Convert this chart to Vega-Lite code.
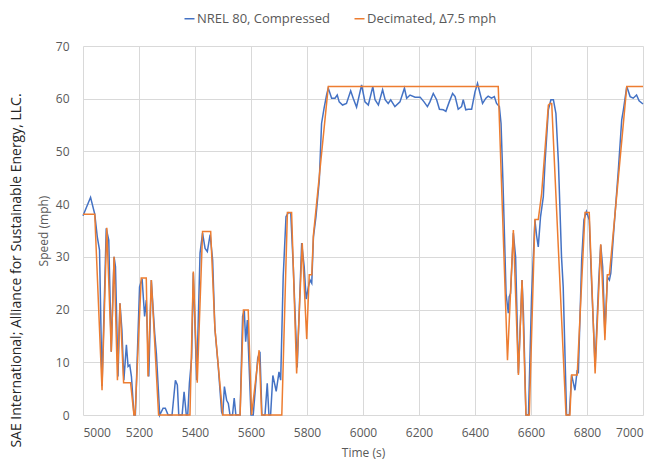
{
  "$schema": "https://vega.github.io/schema/vega-lite/v6.json",
  "autosize": {"type": "none"},
  "width": 560,
  "height": 369,
  "padding": {"left": 83, "top": 46, "right": 23, "bottom": 54},
  "background": "white",
  "title": {
    "text": "SAE International; Alliance for Sustainable Energy, LLC.",
    "orient": "left",
    "anchor": "middle",
    "font": "Open Sans",
    "fontSize": 14,
    "fontWeight": "normal",
    "color": "#262626",
    "offset": 13,
    "dx": -40
  },
  "datasets": {
    "nrel": [
      {"t": 5000, "v": 37.8}, {"t": 5027, "v": 41.3}, {"t": 5042, "v": 38.1}, {"t": 5051, "v": 33.8},
      {"t": 5059, "v": 31.3}, {"t": 5068, "v": 5.5}, {"t": 5083, "v": 35.4}, {"t": 5092, "v": 33.2},
      {"t": 5101, "v": 12}, {"t": 5111, "v": 30}, {"t": 5116, "v": 28.1}, {"t": 5125, "v": 7.3},
      {"t": 5132, "v": 21.2}, {"t": 5139, "v": 16.1}, {"t": 5146, "v": 6.6}, {"t": 5155, "v": 13.3},
      {"t": 5161, "v": 9.2}, {"t": 5167, "v": 9.5}, {"t": 5173, "v": 7.3}, {"t": 5182, "v": 0},
      {"t": 5187, "v": 0}, {"t": 5202, "v": 24.3}, {"t": 5211, "v": 25.9}, {"t": 5220, "v": 18.7},
      {"t": 5226, "v": 21.8}, {"t": 5235, "v": 7.3}, {"t": 5244, "v": 25.6}, {"t": 5256, "v": 15.5},
      {"t": 5262, "v": 11.7}, {"t": 5274, "v": 0}, {"t": 5286, "v": 1.3}, {"t": 5294, "v": 1.3},
      {"t": 5304, "v": 0}, {"t": 5318, "v": 0}, {"t": 5330, "v": 6.6}, {"t": 5337, "v": 5.7},
      {"t": 5342, "v": 0}, {"t": 5354, "v": 0}, {"t": 5361, "v": 4.4}, {"t": 5369, "v": 0},
      {"t": 5374, "v": 0}, {"t": 5380, "v": 6.0}, {"t": 5388, "v": 10.8}, {"t": 5394, "v": 27},
      {"t": 5406, "v": 6.6}, {"t": 5418, "v": 30.7}, {"t": 5427, "v": 34.5}, {"t": 5436, "v": 31.6},
      {"t": 5444, "v": 31}, {"t": 5454, "v": 34.2}, {"t": 5463, "v": 29.4}, {"t": 5471, "v": 16.4},
      {"t": 5483, "v": 9.2}, {"t": 5495, "v": 0.6}, {"t": 5499, "v": 0}, {"t": 5505, "v": 5.4},
      {"t": 5513, "v": 2.8}, {"t": 5519, "v": 2.2}, {"t": 5525, "v": 0}, {"t": 5534, "v": 0},
      {"t": 5540, "v": 3.2}, {"t": 5546, "v": 0}, {"t": 5561, "v": 0}, {"t": 5570, "v": 18.7},
      {"t": 5576, "v": 19.9}, {"t": 5581, "v": 13.9}, {"t": 5587, "v": 18}, {"t": 5600, "v": 0},
      {"t": 5608, "v": 0}, {"t": 5624, "v": 10.8}, {"t": 5632, "v": 12}, {"t": 5639, "v": 0},
      {"t": 5650, "v": 0}, {"t": 5658, "v": 6}, {"t": 5664, "v": 0}, {"t": 5670, "v": 0},
      {"t": 5678, "v": 7.5}, {"t": 5690, "v": 4.5}, {"t": 5700, "v": 8.2}, {"t": 5706, "v": 6.6},
      {"t": 5715, "v": 26.2}, {"t": 5725, "v": 37.6}, {"t": 5733, "v": 38.4}, {"t": 5742, "v": 38.3},
      {"t": 5751, "v": 28.1}, {"t": 5765, "v": 9}, {"t": 5781, "v": 32.6}, {"t": 5790, "v": 28.1},
      {"t": 5797, "v": 22}, {"t": 5805, "v": 24.3}, {"t": 5811, "v": 25.6}, {"t": 5817, "v": 25},
      {"t": 5823, "v": 33.8}, {"t": 5832, "v": 37.6}, {"t": 5844, "v": 44.6}, {"t": 5852, "v": 55.3},
      {"t": 5861, "v": 58.2}, {"t": 5870, "v": 60.7}, {"t": 5876, "v": 62}, {"t": 5888, "v": 60.1},
      {"t": 5900, "v": 60.1}, {"t": 5908, "v": 60.7}, {"t": 5915, "v": 59.4}, {"t": 5927, "v": 58.8},
      {"t": 5941, "v": 59.1}, {"t": 5956, "v": 61.5}, {"t": 5965, "v": 60.1}, {"t": 5977, "v": 58.4},
      {"t": 5995, "v": 62.6}, {"t": 6007, "v": 59.4}, {"t": 6019, "v": 58.8}, {"t": 6035, "v": 62.3},
      {"t": 6043, "v": 59.8}, {"t": 6055, "v": 58.8}, {"t": 6070, "v": 61.7}, {"t": 6079, "v": 59.8},
      {"t": 6090, "v": 59.1}, {"t": 6099, "v": 59.8}, {"t": 6114, "v": 58.5}, {"t": 6132, "v": 59.4},
      {"t": 6148, "v": 62}, {"t": 6156, "v": 60.1}, {"t": 6168, "v": 60.7}, {"t": 6186, "v": 60.3},
      {"t": 6204, "v": 60.3}, {"t": 6218, "v": 59.4}, {"t": 6230, "v": 58.5}, {"t": 6239, "v": 59.4},
      {"t": 6251, "v": 61}, {"t": 6263, "v": 59.8}, {"t": 6273, "v": 58}, {"t": 6287, "v": 57.9},
      {"t": 6296, "v": 57.6}, {"t": 6308, "v": 59.4}, {"t": 6320, "v": 61}, {"t": 6329, "v": 60.4},
      {"t": 6340, "v": 58}, {"t": 6352, "v": 58.5}, {"t": 6358, "v": 59.8}, {"t": 6367, "v": 57.9},
      {"t": 6376, "v": 58}, {"t": 6388, "v": 58}, {"t": 6400, "v": 61.3}, {"t": 6409, "v": 62.9},
      {"t": 6418, "v": 61}, {"t": 6427, "v": 59.1}, {"t": 6439, "v": 60.1}, {"t": 6447, "v": 60.5},
      {"t": 6459, "v": 60.1}, {"t": 6469, "v": 60.4}, {"t": 6477, "v": 59.1}, {"t": 6487, "v": 58.5},
      {"t": 6493, "v": 55.3}, {"t": 6500, "v": 44}, {"t": 6511, "v": 23}, {"t": 6519, "v": 19.3},
      {"t": 6522, "v": 22.4}, {"t": 6527, "v": 23.1}, {"t": 6537, "v": 34.5}, {"t": 6545, "v": 30},
      {"t": 6555, "v": 7.9}, {"t": 6568, "v": 25.6}, {"t": 6573, "v": 19.3}, {"t": 6582, "v": 0},
      {"t": 6591, "v": 0}, {"t": 6602, "v": 22.4}, {"t": 6614, "v": 37}, {"t": 6620, "v": 34},
      {"t": 6626, "v": 31.9}, {"t": 6634, "v": 37.6}, {"t": 6644, "v": 41.4}, {"t": 6650, "v": 47.8},
      {"t": 6662, "v": 57.9}, {"t": 6671, "v": 59.8}, {"t": 6680, "v": 59.8}, {"t": 6689, "v": 57.2},
      {"t": 6698, "v": 47.8}, {"t": 6709, "v": 30}, {"t": 6715, "v": 24.3}, {"t": 6727, "v": 0},
      {"t": 6737, "v": 0}, {"t": 6745, "v": 7.6}, {"t": 6757, "v": 4.7}, {"t": 6765, "v": 8.5},
      {"t": 6769, "v": 7.9}, {"t": 6781, "v": 29.4}, {"t": 6789, "v": 37}, {"t": 6798, "v": 38.6},
      {"t": 6808, "v": 37}, {"t": 6816, "v": 25.6}, {"t": 6829, "v": 9.2}, {"t": 6842, "v": 25.6},
      {"t": 6849, "v": 32.3}, {"t": 6856, "v": 28.1}, {"t": 6864, "v": 15.5}, {"t": 6873, "v": 26.2},
      {"t": 6880, "v": 25.6}, {"t": 6885, "v": 26.9}, {"t": 6895, "v": 34.5}, {"t": 6912, "v": 46.5},
      {"t": 6924, "v": 56}, {"t": 6930, "v": 57.9}, {"t": 6942, "v": 62.3}, {"t": 6954, "v": 60.4},
      {"t": 6965, "v": 60.1}, {"t": 6977, "v": 60.7}, {"t": 6986, "v": 59.6}, {"t": 7000, "v": 59}
    ],
    "decimated": [
      {"t": 5000, "v": 38.1}, {"t": 5042, "v": 38.1}, {"t": 5068, "v": 4.7}, {"t": 5085, "v": 35.5},
      {"t": 5101, "v": 12}, {"t": 5111, "v": 30}, {"t": 5123, "v": 6.6}, {"t": 5132, "v": 21.2},
      {"t": 5145, "v": 6.1}, {"t": 5170, "v": 6.1}, {"t": 5182, "v": 0}, {"t": 5186, "v": 0},
      {"t": 5208, "v": 26}, {"t": 5226, "v": 26}, {"t": 5232, "v": 7.3}, {"t": 5244, "v": 25.6},
      {"t": 5270, "v": 0}, {"t": 5382, "v": 0}, {"t": 5394, "v": 27.2}, {"t": 5408, "v": 6.1},
      {"t": 5427, "v": 34.8}, {"t": 5456, "v": 34.8}, {"t": 5471, "v": 16.5}, {"t": 5499, "v": 0},
      {"t": 5561, "v": 0}, {"t": 5573, "v": 19.9}, {"t": 5590, "v": 19.9}, {"t": 5602, "v": 0},
      {"t": 5629, "v": 12.3}, {"t": 5638, "v": 0}, {"t": 5710, "v": 0}, {"t": 5730, "v": 38.4},
      {"t": 5745, "v": 38.4}, {"t": 5763, "v": 7.9}, {"t": 5783, "v": 32.6}, {"t": 5799, "v": 14.4},
      {"t": 5808, "v": 26.6}, {"t": 5817, "v": 26.6}, {"t": 5823, "v": 34.2}, {"t": 5876, "v": 62.3},
      {"t": 6483, "v": 62.3}, {"t": 6516, "v": 10.4}, {"t": 6537, "v": 35.1}, {"t": 6555, "v": 7.6},
      {"t": 6568, "v": 25.6}, {"t": 6582, "v": 0}, {"t": 6594, "v": 0}, {"t": 6614, "v": 37.1},
      {"t": 6626, "v": 37.1}, {"t": 6638, "v": 42}, {"t": 6662, "v": 58.8}, {"t": 6668, "v": 59.1},
      {"t": 6674, "v": 59.1}, {"t": 6725, "v": 0}, {"t": 6739, "v": 0}, {"t": 6745, "v": 7.6},
      {"t": 6765, "v": 7.6}, {"t": 6793, "v": 38.4}, {"t": 6808, "v": 38.4}, {"t": 6829, "v": 7.9},
      {"t": 6849, "v": 32.4}, {"t": 6864, "v": 14.2}, {"t": 6873, "v": 26.6}, {"t": 6880, "v": 26.6},
      {"t": 6942, "v": 62.3}, {"t": 7000, "v": 62.3}
    ]
  },
  "encoding": {
    "x": {
      "field": "t", "type": "quantitative",
      "scale": {"domain": [5000, 7000], "nice": false},
      "axis": {
        "title": "Time (s)",
        "values": [5000, 5200, 5400, 5600, 5800, 6000, 6200, 6400, 6600, 6800, 7000],
        "format": "d"
      }
    },
    "y": {
      "field": "v", "type": "quantitative",
      "scale": {"domain": [0, 70], "nice": false},
      "axis": {
        "title": "Speed (mph)",
        "values": [0, 10, 20, 30, 40, 50, 60, 70]
      }
    },
    "color": {
      "scale": {
        "domain": ["NREL 80, Compressed", "Decimated, Δ7.5 mph"],
        "range": ["#4472C4", "#ED7D31"]
      },
      "legend": {
        "title": null,
        "orient": "none",
        "direction": "horizontal",
        "legendX": 100,
        "legendY": -34,
        "symbolType": "stroke",
        "symbolSize": 100,
        "symbolStrokeWidth": 1.5,
        "labelFont": "Open Sans",
        "labelFontSize": 13,
        "labelColor": "#595959",
        "labelOffset": 1,
        "columnPadding": 20
      }
    }
  },
  "layer": [
    {
      "data": {"name": "nrel"},
      "mark": {"type": "line", "strokeWidth": 1.5},
      "encoding": {"color": {"datum": "NREL 80, Compressed"}}
    },
    {
      "data": {"name": "decimated"},
      "mark": {"type": "line", "strokeWidth": 1.5},
      "encoding": {"color": {"datum": "Decimated, Δ7.5 mph"}}
    }
  ],
  "config": {
    "view": {"stroke": null},
    "axis": {
      "labelFont": "Open Sans",
      "titleFont": "Open Sans",
      "labelFontSize": 12,
      "titleFontSize": 12,
      "titleFontWeight": "normal",
      "labelColor": "#595959",
      "titleColor": "#595959",
      "gridColor": "#d9d9d9",
      "gridWidth": 1,
      "domain": false,
      "ticks": false
    },
    "axisX": {"labelPadding": 12, "titlePadding": 9},
    "axisY": {"labelPadding": 14, "titlePadding": 5}
  }
}
